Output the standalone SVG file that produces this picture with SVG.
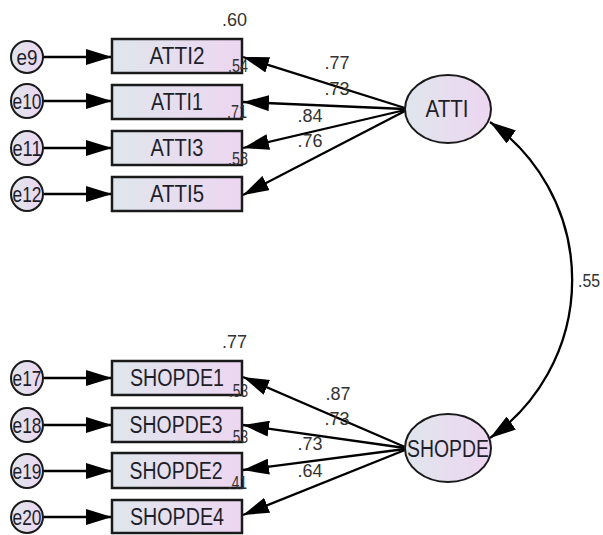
<svg xmlns="http://www.w3.org/2000/svg" width="603" height="535" viewBox="0 0 603 535">
<defs>
<linearGradient id="fillg" x1="0" y1="0" x2="1" y2="0">
<stop offset="0" stop-color="#dfe6ec"/>
<stop offset="1" stop-color="#edd6f1"/>
</linearGradient>
<marker id="ah" markerUnits="userSpaceOnUse" viewBox="0 -8 26 16" refX="26" refY="0" markerWidth="26" markerHeight="16" orient="auto-start-reverse">
<path d="M0,-8 L26,0 L0,8 z" fill="#000"/>
</marker>
<style>
.box{fill:url(#fillg);stroke:#1a1a1a;stroke-width:2.5}
.lat{fill:url(#fillg);stroke:#1a1a1a;stroke-width:2}
.err{fill:url(#fillg);stroke:#1a1a1a;stroke-width:2}
.lbl{font-family:"Liberation Sans",Arial,sans-serif;font-size:23px;fill:#1e1e2a;text-anchor:middle}
.elbl{font-family:"Liberation Sans",Arial,sans-serif;font-size:22px;fill:#1e1e2a;text-anchor:middle}
.coef{font-family:"Liberation Sans",Arial,sans-serif;font-size:18px;fill:#333}
.r{text-anchor:end}
.m{text-anchor:middle}
.ln{stroke:#000;stroke-width:2.3;fill:none;marker-end:url(#ah)}
.cv{stroke:#000;stroke-width:2.3;fill:none;marker-end:url(#ah);marker-start:url(#ah)}
</style>
</defs>
<rect width="603" height="535" fill="#fff"/>

<g id="connectors">
<line class="ln" x1="43" y1="57" x2="112" y2="57"/>
<line class="ln" x1="43" y1="101" x2="112" y2="101"/>
<line class="ln" x1="43" y1="148" x2="112" y2="148"/>
<line class="ln" x1="43" y1="194" x2="112" y2="194"/>
<line class="ln" x1="43" y1="378" x2="112" y2="378"/>
<line class="ln" x1="43" y1="425" x2="112" y2="425"/>
<line class="ln" x1="43" y1="471" x2="112" y2="471"/>
<line class="ln" x1="43" y1="517" x2="112" y2="517"/>
<line class="ln" x1="405" y1="108" x2="243" y2="57"/>
<line class="ln" x1="405" y1="109" x2="243" y2="102"/>
<line class="ln" x1="405" y1="110" x2="243" y2="148"/>
<line class="ln" x1="405" y1="111" x2="243" y2="195"/>
<line class="ln" x1="405" y1="447" x2="243" y2="377"/>
<line class="ln" x1="405" y1="448" x2="243" y2="425"/>
<line class="ln" x1="405" y1="449" x2="243" y2="470"/>
<line class="ln" x1="405" y1="450" x2="243" y2="515"/>
<path class="cv" d="M490,122 A193,193 0 0 1 490,438"/>
</g>

<g id="ATTI">
<ellipse class="lat" cx="448" cy="109" rx="43" ry="34"/>
<text class="lbl" x="447" y="117" textLength="43" lengthAdjust="spacingAndGlyphs">ATTI</text>
</g>
<g id="SHOPDE">
<ellipse class="lat" cx="448" cy="448" rx="43" ry="34"/>
<text class="lbl" x="448" y="457" textLength="82" lengthAdjust="spacingAndGlyphs">SHOPDE</text>
</g>

<g id="ATTI2"><rect class="box" x="112" y="39" width="130" height="34"/><text class="lbl" x="177" y="64" textLength="55" lengthAdjust="spacingAndGlyphs">ATTI2</text></g>
<g id="ATTI1"><rect class="box" x="112" y="85" width="130" height="34"/><text class="lbl" x="177" y="110" textLength="52" lengthAdjust="spacingAndGlyphs">ATTI1</text></g>
<g id="ATTI3"><rect class="box" x="112" y="131" width="130" height="34"/><text class="lbl" x="177" y="156" textLength="53" lengthAdjust="spacingAndGlyphs">ATTI3</text></g>
<g id="ATTI5"><rect class="box" x="112" y="177" width="130" height="34"/><text class="lbl" x="177" y="202" textLength="54" lengthAdjust="spacingAndGlyphs">ATTI5</text></g>

<g id="SHOPDE1"><rect class="box" x="112" y="361" width="130" height="34"/><text class="lbl" x="177" y="386" textLength="94" lengthAdjust="spacingAndGlyphs">SHOPDE1</text></g>
<g id="SHOPDE3"><rect class="box" x="112" y="408" width="130" height="34"/><text class="lbl" x="176" y="433" textLength="93" lengthAdjust="spacingAndGlyphs">SHOPDE3</text></g>
<g id="SHOPDE2"><rect class="box" x="112" y="453" width="130" height="35"/><text class="lbl" x="176" y="479" textLength="93" lengthAdjust="spacingAndGlyphs">SHOPDE2</text></g>
<g id="SHOPDE4"><rect class="box" x="112" y="500" width="130" height="33"/><text class="lbl" x="177" y="525" textLength="94" lengthAdjust="spacingAndGlyphs">SHOPDE4</text></g>

<g id="e9"><ellipse class="err" cx="27" cy="57" rx="16" ry="16"/><text class="elbl" x="27" y="65" textLength="21" lengthAdjust="spacingAndGlyphs">e9</text></g>
<g id="e10"><ellipse class="err" cx="27" cy="101" rx="16" ry="17"/><text class="elbl" x="27" y="109" textLength="29" lengthAdjust="spacingAndGlyphs">e10</text></g>
<g id="e11"><ellipse class="err" cx="27" cy="148" rx="16" ry="17"/><text class="elbl" x="27" y="156" textLength="29" lengthAdjust="spacingAndGlyphs">e11</text></g>
<g id="e12"><ellipse class="err" cx="27" cy="194" rx="16" ry="17"/><text class="elbl" x="27" y="202" textLength="29" lengthAdjust="spacingAndGlyphs">e12</text></g>
<g id="e17"><ellipse class="err" cx="27" cy="378" rx="16" ry="17"/><text class="elbl" x="27" y="386" textLength="29" lengthAdjust="spacingAndGlyphs">e17</text></g>
<g id="e18"><ellipse class="err" cx="27" cy="425" rx="16" ry="17"/><text class="elbl" x="27" y="433" textLength="29" lengthAdjust="spacingAndGlyphs">e18</text></g>
<g id="e19"><ellipse class="err" cx="27" cy="471" rx="16" ry="17"/><text class="elbl" x="27" y="479" textLength="29" lengthAdjust="spacingAndGlyphs">e19</text></g>
<g id="e20"><ellipse class="err" cx="27" cy="517" rx="16" ry="16"/><text class="elbl" x="27" y="525" textLength="29" lengthAdjust="spacingAndGlyphs">e20</text></g>

<g id="coefficients">
<text class="coef r" x="247" y="26">.60</text>
<text class="coef r" x="248" y="72" textLength="20" lengthAdjust="spacingAndGlyphs">.54</text>
<text class="coef r" x="247" y="118" textLength="20" lengthAdjust="spacingAndGlyphs">.71</text>
<text class="coef r" x="248" y="165" textLength="20" lengthAdjust="spacingAndGlyphs">.58</text>
<text class="coef m" x="337" y="69">.77</text>
<text class="coef m" x="337" y="95">.73</text>
<text class="coef m" x="310" y="122">.84</text>
<text class="coef m" x="310" y="147">.76</text>
<text class="coef" x="578" y="287" textLength="22" lengthAdjust="spacingAndGlyphs">.55</text>
<text class="coef r" x="247" y="348">.77</text>
<text class="coef r" x="248" y="397" textLength="19" lengthAdjust="spacingAndGlyphs">.53</text>
<text class="coef r" x="248" y="443" textLength="19" lengthAdjust="spacingAndGlyphs">.53</text>
<text class="coef r" x="247" y="489" textLength="19" lengthAdjust="spacingAndGlyphs">.41</text>
<text class="coef m" x="338" y="400">.87</text>
<text class="coef m" x="337" y="425">.73</text>
<text class="coef m" x="310" y="450">.73</text>
<text class="coef m" x="310" y="477">.64</text>
</g>
</svg>
